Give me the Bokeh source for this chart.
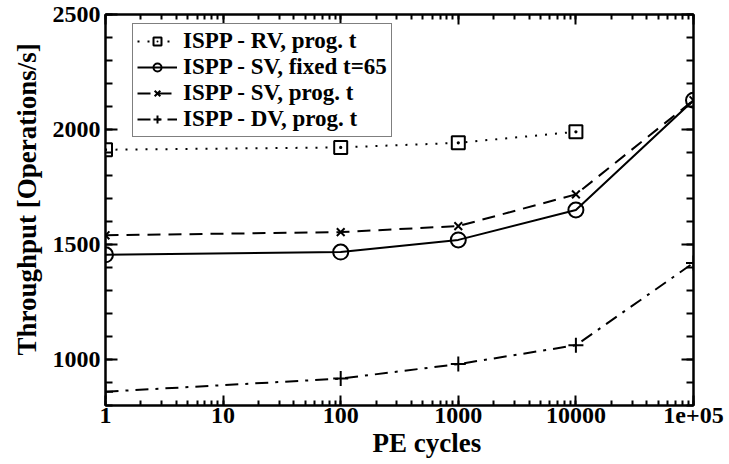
from bokeh.plotting import figure
from bokeh.models import (LogAxis, LinearAxis, SingleIntervalTicker, Legend, LegendItem,
                          Range1d, Title, CustomJSTickFormatter)
from bokeh.embed import file_html
from bokeh.resources import INLINE

# PE cycle counts (log scale) and measured throughput per scheme
pe_rv = [1, 100, 1000, 10000]
thr_rv = [1912, 1922, 1942, 1990]

pe_sv = [1, 100, 1000, 10000, 100000]
thr_sv_fixed = [1455, 1467, 1520, 1650, 2127]
thr_sv_prog = [1540, 1554, 1580, 1718, 2127]

pe_dv = [1, 100, 1000, 10000, 100000]
thr_dv = [860, 917, 980, 1062, 1420]

series_labels = ["ISPP - RV, prog. t", "ISPP - SV, fixed t=65",
                 "ISPP - SV, prog. t", "ISPP - DV, prog. t"]

x_tick_values = [1, 10, 100, 1000, 10000, 100000]
x_tick_labels = ["1", "10", "100", "1000", "10000", "1e+05"]

FONT = "Liberation Serif"

p = figure(width=729, height=464, x_axis_type="log",
           x_range=Range1d(1, 100000), y_range=Range1d(800, 2500),
           output_backend="svg", toolbar_location=None,
           min_border_left=105, min_border_right=36,
           min_border_top=14, min_border_bottom=59)

p.xgrid.visible = False
p.ygrid.visible = False
p.outline_line_color = "black"
p.outline_line_width = 2
p.background_fill_color = "white"
p.border_fill_color = "white"

LW = 2

r_rv_l = p.line(pe_rv, thr_rv, line_color="black", line_width=LW, line_dash="2 8")
r_rv_m = p.scatter(pe_rv, thr_rv, marker="square_dot", size=13, fill_color="white",
                   line_color="black", line_width=LW)

r_svf_l = p.line(pe_sv, thr_sv_fixed, line_color="black", line_width=LW)
r_svf_m = p.scatter(pe_sv, thr_sv_fixed, marker="circle", size=15, fill_color=None,
                    line_color="black", line_width=LW)

r_svp_l = p.line(pe_sv, thr_sv_prog, line_color="black", line_width=LW, line_dash="13 8")
r_svp_m = p.scatter(pe_sv, thr_sv_prog, marker="x", size=11, line_color="black",
                    line_width=LW)

r_dv_l = p.line(pe_dv, thr_dv, line_color="black", line_width=LW, line_dash="13 7 3 7")
r_dv_m = p.scatter(pe_dv, thr_dv, marker="cross", size=15, line_color="black",
                   line_width=LW)

# axes: ticks point inward on all four sides
def style_axis(ax, major_len, minor_len):
    ax.axis_line_width = 2
    ax.axis_line_color = "black"
    ax.major_tick_in = major_len
    ax.major_tick_out = 0
    ax.minor_tick_in = minor_len
    ax.minor_tick_out = 0
    ax.major_tick_line_width = 2
    ax.minor_tick_line_width = 2
    ax.major_tick_line_color = "black"
    ax.minor_tick_line_color = "black"
    ax.major_label_text_font = FONT
    ax.major_label_text_font_style = "bold"
    ax.major_label_text_font_size = "24px"
    ax.major_label_text_color = "black"

xax = p.xaxis[0]
style_axis(xax, 10, 5)
xax.formatter = CustomJSTickFormatter(
    args=dict(vals=x_tick_values, labs=x_tick_labels),
    code="""
        for (let i = 0; i < vals.length; i++) {
            if (Math.abs(Math.log10(vals[i]) - Math.log10(tick)) < 1e-6) return labs[i];
        }
        return "";
    """)
xax.major_label_standoff = 2

yax = p.yaxis[0]
y_ticker = SingleIntervalTicker(interval=500, num_minor_ticks=5)
yax.ticker = y_ticker
style_axis(yax, 12, 7)
yax.major_label_standoff = 5

# mirrored tick-only axes on the top and right edges
top = LogAxis(ticker=xax.ticker)
style_axis(top, 10, 5)
top.major_label_text_font_size = "1px"
top.major_label_text_color = None
top.major_label_standoff = 0
p.add_layout(top, "above")

right = LinearAxis(ticker=y_ticker)
style_axis(right, 12, 7)
right.major_label_text_font_size = "1px"
right.major_label_text_color = None
right.major_label_standoff = 0
p.add_layout(right, "right")

# axis titles
p.add_layout(Title(text="PE cycles", align="left", offset=267, standoff=0,
                   text_font=FONT, text_font_style="bold", text_font_size="27px",
                   text_color="black"), "below")
p.add_layout(Title(text="Throughput [Operations/s]", align="left", offset=50,
                   standoff=16, text_font=FONT, text_font_style="bold",
                   text_font_size="27px", text_color="black"), "left")

legend = Legend(items=[
    LegendItem(label=series_labels[0], renderers=[r_rv_l, r_rv_m]),
    LegendItem(label=series_labels[1], renderers=[r_svf_l, r_svf_m]),
    LegendItem(label=series_labels[2], renderers=[r_svp_l, r_svp_m]),
    LegendItem(label=series_labels[3], renderers=[r_dv_l, r_dv_m]),
], location=(27, 268))
legend.label_text_font = FONT
legend.label_text_font_style = "bold"
legend.label_text_font_size = "23px"
legend.label_text_color = "black"
legend.glyph_width = 40
legend.glyph_height = 20
legend.label_height = 20
legend.spacing = 0
legend.padding = 4
legend.margin = 0
legend.label_standoff = 6
legend.border_line_color = "black"
legend.border_line_width = 1.5
legend.background_fill_alpha = 1
p.add_layout(legend, "center")

open("out.html", "w").write(file_html(p, INLINE))
